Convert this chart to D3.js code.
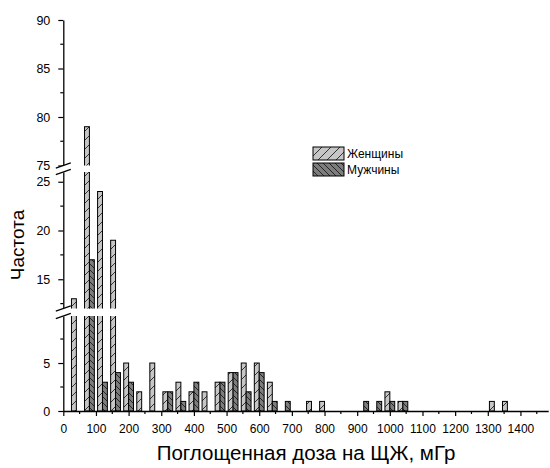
<!DOCTYPE html>
<html>
<head>
<meta charset="utf-8">
<script src="https://cdn.jsdelivr.net/npm/d3@7"></script>
<style>
  body { margin: 0; background: #fff; }
  svg { display: block; font-family: "Liberation Sans", Arial, sans-serif; }
</style>
</head>
<body>
<svg id="chart" width="550" height="468"></svg>
<script>
// Dose bins (bin centre, mGy) and counts for each group
const binCenters = [40, 80, 120, 160, 200, 240, 280, 320, 360, 400, 440, 480, 520, 560, 600, 640,
                    680, 720, 760, 800, 840, 880, 920, 960, 1000, 1040, 1080, 1120, 1160, 1200,
                    1240, 1280, 1320, 1360];
const women = [13, 79, 24, 19, 5, 2, 5, 2, 3, 2, 2, 3, 4, 5, 5, 3,
               0, 0, 1, 1, 0, 0, 0, 0, 2, 1, 0, 0, 0, 0,
               0, 0, 1, 1];
const men   = [0, 17, 3, 4, 3, 0, 0, 2, 1, 3, 0, 3, 4, 2, 4, 1,
               1, 0, 0, 0, 0, 0, 1, 1, 1, 1, 0, 0, 0, 0,
               0, 0, 0, 0];
const seriesNames = ["Женщины", "Мужчины"];
const xTicks = d3.range(0, 1401, 100);
const xMinorTicks = d3.range(50, 1451, 100);

// Broken y axis: three segments
const segments = [
  { domain: [0, 9.9],  range: [411, 316],   major: [0, 5],          minor: [2.5, 7.5] },
  { domain: [12, 26],  range: [308.5, 172], major: [15, 20, 25],    minor: [12.5, 17.5, 22.5] },
  { domain: [75, 90],  range: [165.5, 20],  major: [75, 80, 85, 90], minor: [77.5, 82.5, 87.5] }
];

const svg = d3.select("#chart");
const x = d3.scaleLinear().domain([0, 1485]).range([63.3, 548.2]);
const y = d3.scaleLinear()
  .domain(segments.flatMap(s => s.domain))
  .range(segments.flatMap(s => s.range));
const barW = 15; // bar width in mGy
const x0 = x(0), yBase = y(0);

// Hatch patterns
const defs = svg.append("defs");
const pW = defs.append("pattern").attr("id", "hatchW")
  .attr("patternUnits", "userSpaceOnUse").attr("width", 9).attr("height", 9);
pW.append("rect").attr("width", 9).attr("height", 9).attr("fill", "#c6c6c6");
pW.append("path").attr("d", "M0,9 L9,0 M-2,2 L2,-2 M7,11 L11,7")
  .attr("stroke", "#222").attr("stroke-width", 0.9);
const pM = defs.append("pattern").attr("id", "hatchM")
  .attr("patternUnits", "userSpaceOnUse").attr("width", 6).attr("height", 6);
pM.append("rect").attr("width", 6).attr("height", 6).attr("fill", "#7d7d7d");
pM.append("path").attr("d", "M0,0 L6,6 M-2,4 L2,8 M4,-2 L8,2")
  .attr("stroke", "#1a1a1a").attr("stroke-width", 0.9);

// Clip bars to the three axis segments
const clip = defs.append("clipPath").attr("id", "segClip");
segments.forEach((s, i) => {
  const top = i === segments.length - 1 ? 0 : s.range[1];
  clip.append("rect").attr("x", x0).attr("width", 550 - x0)
    .attr("y", top).attr("height", s.range[0] - top);
});

const rows = binCenters.map((c, i) => ({ c, w: women[i], m: men[i] }));
const bars = svg.append("g").attr("clip-path", "url(#segClip)");
bars.selectAll("rect.w").data(rows.filter(d => d.w > 0)).join("rect")
  .attr("class", "w")
  .attr("x", d => x(d.c - barW)).attr("width", d => x(d.c) - x(d.c - barW))
  .attr("y", d => y(d.w)).attr("height", d => yBase - y(d.w))
  .attr("fill", "url(#hatchW)").attr("stroke", "#000").attr("stroke-width", 1);
bars.selectAll("rect.m").data(rows.filter(d => d.m > 0)).join("rect")
  .attr("class", "m")
  .attr("x", d => x(d.c)).attr("width", d => x(d.c + barW) - x(d.c))
  .attr("y", d => y(d.m)).attr("height", d => yBase - y(d.m))
  .attr("fill", "url(#hatchM)").attr("stroke", "#000").attr("stroke-width", 1);

// X axis
const xAxis = svg.append("g").attr("transform", `translate(0,${yBase})`)
  .call(d3.axisBottom(x).tickValues(xTicks).tickFormat(d3.format("d"))
    .tickSize(5).tickSizeOuter(0).tickPadding(8));
xAxis.select(".domain").attr("stroke-width", 1.3);
xAxis.selectAll(".tick line").attr("stroke-width", 1.2);
xAxis.selectAll("text").attr("font-size", 12).attr("fill", "#000");
svg.append("g").selectAll("line").data(xMinorTicks).join("line")
  .attr("x1", d => x(d)).attr("x2", d => x(d))
  .attr("y1", yBase).attr("y2", yBase + 3)
  .attr("stroke", "#000").attr("stroke-width", 1.2);

// Y axis, one piece per segment
segments.forEach(s => {
  const ys = d3.scaleLinear().domain(s.domain).range(s.range);
  const g = svg.append("g").attr("transform", `translate(${x0},0)`)
    .call(d3.axisLeft(ys).tickValues(s.major).tickSize(5).tickSizeOuter(0).tickPadding(8));
  g.select(".domain").attr("stroke-width", 1.3);
  g.selectAll(".tick line").attr("stroke-width", 1.2);
  g.selectAll("text").attr("font-size", 12.5).attr("fill", "#000");
  g.append("g").selectAll("line").data(s.minor).join("line")
    .attr("x1", 0).attr("x2", -3).attr("y1", d => ys(d)).attr("y2", d => ys(d))
    .attr("stroke", "#000").attr("stroke-width", 1.2);
});

// Break marks
[[165.5, 172], [308.5, 316]].forEach(([a, b]) => {
  svg.append("path")
    .attr("d", `M${x0 - 7},${a + 2.5} L${x0 + 7},${a - 2.5} L${x0 + 7},${b - 2.5} L${x0 - 7},${b + 2.5} Z`)
    .attr("fill", "#fff");
  [a, b].forEach(v => {
    svg.append("line")
      .attr("x1", x0 - 7.5).attr("y1", v + 2.6).attr("x2", x0 + 7.5).attr("y2", v - 2.6)
      .attr("stroke", "#000").attr("stroke-width", 1.2);
  });
});

// Legend
const legend = svg.append("g").attr("transform", "translate(313,147)");
["url(#hatchW)", "url(#hatchM)"].forEach((f, i) => {
  legend.append("rect").attr("x", 0).attr("y", i * 16).attr("width", 31).attr("height", 13)
    .attr("fill", f).attr("stroke", "#000").attr("stroke-width", 1);
  legend.append("text").attr("x", 34).attr("y", i * 16 + 11)
    .attr("font-size", 12).text(seriesNames[i]);
});

// Axis titles
svg.append("text").attr("x", 306).attr("y", 460).attr("text-anchor", "middle")
  .attr("font-size", 20.5).text("Поглощенная доза на ЩЖ, мГр");
svg.append("text").attr("transform", "translate(24,245) rotate(-90)")
  .attr("text-anchor", "middle").attr("font-size", 19).text("Частота");
</script>
</body>
</html>
